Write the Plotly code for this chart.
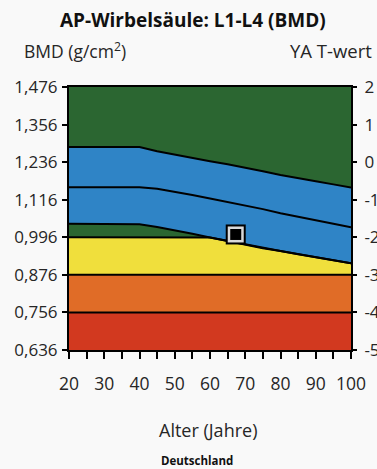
import numpy as np
import plotly.graph_objects as go

# ---- data ----
ages = [20, 25, 30, 35, 40, 45, 50, 55, 60, 65, 70, 75, 80, 85, 90, 95, 100]
upper_ref = [1.284, 1.284, 1.284, 1.284, 1.284, 1.271, 1.260, 1.248, 1.239, 1.229,
             1.219, 1.207, 1.195, 1.184, 1.175, 1.165, 1.155]
mean_ref = [1.156, 1.156, 1.156, 1.156, 1.156, 1.151, 1.142, 1.131, 1.120, 1.109,
            1.099, 1.086, 1.073, 1.061, 1.050, 1.039, 1.028]
lower_ref = [1.039, 1.039, 1.039, 1.039, 1.038, 1.029, 1.019, 1.007, 0.995, 0.984,
             0.972, 0.961, 0.952, 0.942, 0.932, 0.922, 0.913]
osteopenia_top = 0.996
osteoporosis_top = 0.876
severe_top = 0.756
bmd_min = 0.636
bmd_max = 1.476
bmd_ticks = [0.636, 0.756, 0.876, 0.996, 1.116, 1.236, 1.356, 1.476]
bmd_tick_text = ["0,636", "0,756", "0,876", "0,996", "1,116", "1,236", "1,356", "1,476"]
t_ticks = [-5, -4, -3, -2, -1, 0, 1, 2]
t_tick_text = ["-5", "-4", "-3", "-2", "-1", "0", "1", "2"]
x_ticks = [20, 30, 40, 50, 60, 70, 80, 90, 100]
patient_age = [67.3]
patient_bmd = [1.005]

GREEN = "#2b6631"
BLUE = "#2f84c6"
YELLOW = "#f0df3c"
ORANGE = "#e06c27"
RED = "#d2391f"
BG = "#f9f9f9"
FONT = "Open Sans"
TXT = "#262626"

n = len(ages)
yellow_top = list(np.minimum(osteopenia_top, np.array(lower_ref)))

fig = go.Figure()

def band(y, color):
    fig.add_trace(go.Scatter(x=ages, y=y, mode="lines", line=dict(width=0),
                             fill="tonexty" if color else None, fillcolor=color,
                             hoverinfo="skip", showlegend=False))

band([bmd_min] * n, None)
band([severe_top] * n, RED)
band([osteoporosis_top] * n, ORANGE)
band(yellow_top, YELLOW)
band(lower_ref, GREEN)
band(mean_ref, BLUE)
band(upper_ref, BLUE)
band([bmd_max] * n, GREEN)

for y in ([severe_top] * n, [osteoporosis_top] * n, yellow_top, lower_ref, mean_ref, upper_ref):
    fig.add_trace(go.Scatter(x=ages, y=y, mode="lines", line=dict(color="black", width=2),
                             hoverinfo="skip", showlegend=False))

# patient marker
for size, col in ((20, "black"), (16, "#d9d9d9"), (11, "black")):
    fig.add_trace(go.Scatter(x=patient_age, y=patient_bmd, mode="markers",
                             marker=dict(symbol="square", size=size, color=col, line=dict(width=0)),
                             hoverinfo="skip", showlegend=False))

# invisible trace for right axis
fig.add_trace(go.Scatter(x=[ages[0]], y=[t_ticks[0]], yaxis="y2", mode="markers",
                         marker=dict(opacity=0), hoverinfo="skip", showlegend=False))

fig.update_layout(
    width=377, height=469,
    margin=dict(l=69, r=26, t=87, b=119),
    paper_bgcolor=BG, plot_bgcolor=BG,
    font=dict(family=FONT, color=TXT, size=16),
    xaxis=dict(range=[20, 100], tickvals=x_ticks, ticks="outside", ticklen=7, tickwidth=2,
               tickcolor="black", showline=True, linecolor="black", linewidth=2, mirror=True,
               showgrid=False, zeroline=False, tickfont=dict(size=17.5), automargin=False,
               ticklabelstandoff=10,
               minor=dict(dtick=5, tick0=20, ticks="outside", ticklen=7, tickwidth=2, tickcolor="black",
                          showgrid=False)),
    yaxis=dict(range=[bmd_min, bmd_max], tickvals=bmd_ticks, ticktext=bmd_tick_text,
               ticks="outside", ticklen=5, tickwidth=2, tickcolor="black",
               showline=True, linecolor="black", linewidth=2, mirror=True, automargin=False,
               showgrid=False, zeroline=False, tickfont=dict(size=17), ticklabelstandoff=1),
    yaxis2=dict(range=[-5, 2], tickvals=t_ticks, ticktext=t_tick_text, overlaying="y", side="right",
                ticks="outside", ticklen=5, tickwidth=2, tickcolor="black", automargin=False,
                showline=False, showgrid=False, zeroline=False, tickfont=dict(size=17),
                ticklabelstandoff=4),
    annotations=[
        dict(text="<b>AP-Wirbelsäule: L1-L4 (BMD)</b>", x=0.441, y=1.255, xref="paper", yref="paper",
             xanchor="center", yanchor="middle", showarrow=False, font=dict(size=19, color="#111")),
        dict(text="BMD (g/cm<sup>2</sup>)", x=-0.167, y=1.14, xref="paper", yref="paper",
             xanchor="left", yanchor="middle", showarrow=False, font=dict(size=17.5)),
        dict(text="YA T-wert", x=1.083, y=1.14, xref="paper", yref="paper",
             xanchor="right", yanchor="middle", showarrow=False, font=dict(size=18.5)),
        dict(text="Alter (Jahre)", x=0.493, y=-0.304, xref="paper", yref="paper",
             xanchor="center", yanchor="middle", showarrow=False, font=dict(size=18)),
        dict(text="<b>Deutschland</b>", x=0.454, y=-0.422, xref="paper", yref="paper",
             xanchor="center", yanchor="middle", showarrow=False, font=dict(size=11.5, color="#111")),
    ],
)

fig.write_html("out.html")
